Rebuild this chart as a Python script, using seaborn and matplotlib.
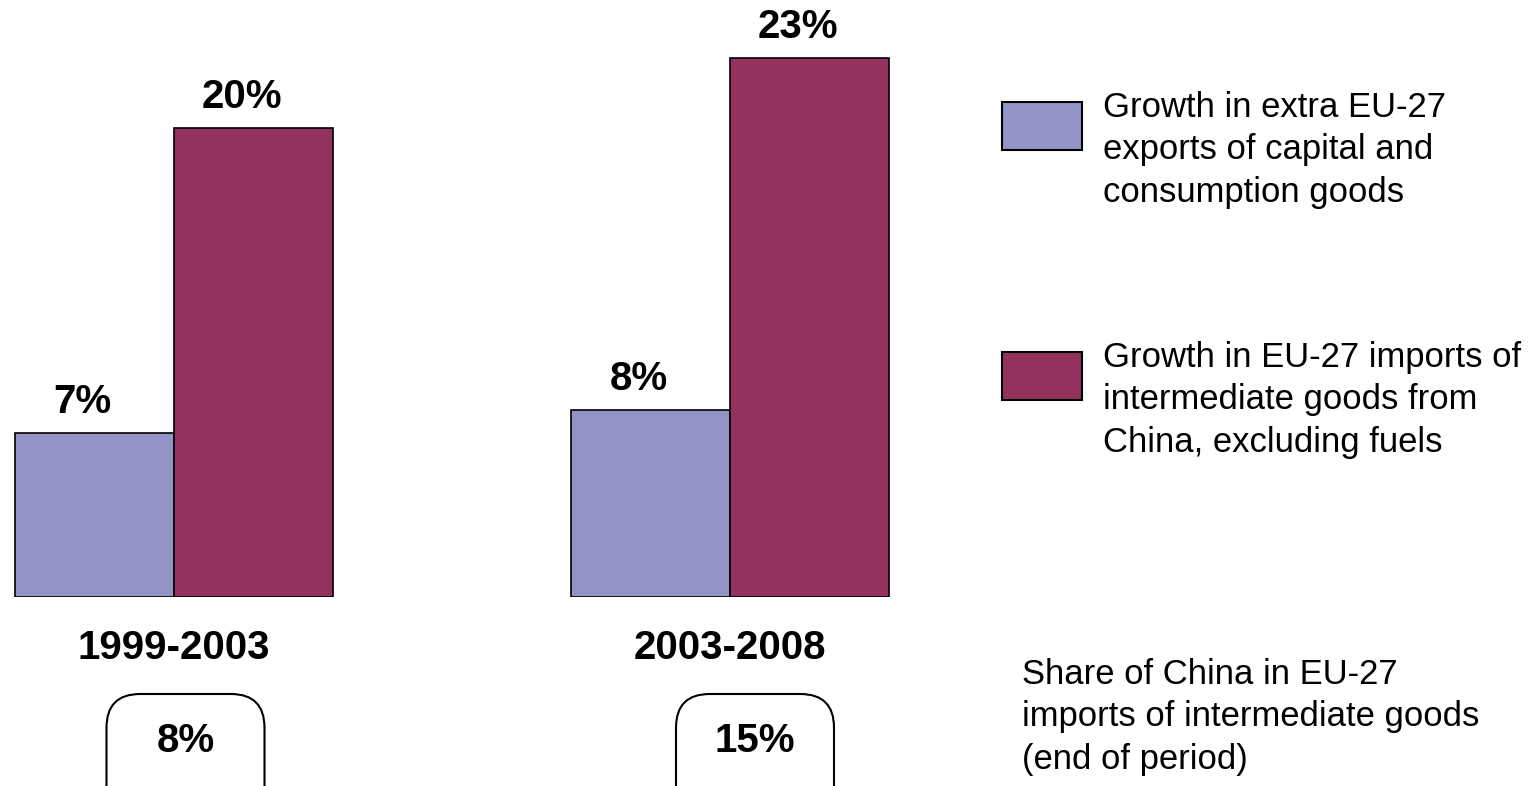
import matplotlib
matplotlib.use("Agg")
import matplotlib.pyplot as plt
from matplotlib.patches import FancyBboxPatch, Rectangle
import pandas as pd
import seaborn as sns

periods = ["1999-2003", "2003-2008"]
series = [
    "Growth in extra EU-27\nexports of capital and\nconsumption goods",
    "Growth in EU-27 imports of\nintermediate goods from\nChina, excluding fuels",
]
exports_growth = [7, 8]
imports_growth = [20, 23]
china_share = [8, 15]
share_note = "Share of China in EU-27\nimports of intermediate goods\n(end of period)"
colors = ["#9393C5", "#93325F"]

df = pd.DataFrame({
    "period": periods * 2,
    "series": [series[0]] * 2 + [series[1]] * 2,
    "value": exports_growth + imports_growth,
})

sns.set_theme(style="white")
plt.rcParams["font.family"] = ["Liberation Sans", "DejaVu Sans"]
plt.rcParams["text.color"] = "black"
plt.rcParams["xtick.color"] = "black"
plt.rcParams["xtick.labelcolor"] = "black"

W, H = 1532, 786
fig = plt.figure(figsize=(W / 100, H / 100), dpi=100)
ax = fig.add_axes([0, (H - 597) / H, 900 / W, 597 / H])

sns.barplot(data=df, x="period", y="value", hue="series", palette=colors,
            width=0.572, edgecolor="black", linewidth=1.2, saturation=1,
            ax=ax, legend=False)

ax.set_xlim(-0.313, -0.313 + 900 / 556)
ax.set_ylim(0, 597 / 23.43)
for s in ax.spines.values():
    s.set_visible(False)
ax.set_yticks([])
ax.set_xlabel("")
ax.set_ylabel("")
ax.tick_params(axis="x", length=0, pad=23, colors="black")
for lbl in ax.get_xticklabels():
    lbl.set_fontsize(29)
    lbl.set_fontweight("bold")

# value labels above each bar
for cont in ax.containers:
    for rect in cont:
        v = rect.get_height()
        ax.annotate(f"{v:.0f}%", (rect.get_x() + rect.get_width() / 2, v),
                    xytext=(-12, 20), textcoords="offset pixels",
                    ha="center", va="baseline", fontsize=29,
                    fontweight="bold", color="black")

# legend on the right: swatch plus three-line description
for i, (lab, col) in enumerate(zip(series, colors)):
    top = 102 + 250 * i
    fig.patches.append(Rectangle((1002 / W, 1 - (top + 48) / H), 80 / W, 48 / H,
                                 transform=fig.transFigure, facecolor=col,
                                 edgecolor="black", linewidth=1.5))
    fig.text(1103 / W, 1 - (91 + 250 * i) / H, lab, ha="left",
             va="top", fontsize=24.9, linespacing=1.36, color="black")

# share of China boxes below each period
for px_center, share in zip([185.5, 755], china_share):
    box = FancyBboxPatch(((px_center - 79) / W, -0.05), 158 / W,
                         (H - 694) / H + 0.05,
                         boxstyle="round,pad=0,rounding_size=0.022",
                         transform=fig.transFigure, facecolor="white",
                         edgecolor="black", linewidth=1.5, clip_on=False,
                         mutation_aspect=W / H)
    fig.patches.append(box)
    fig.text(px_center / W, 1 - 741 / H, f"{share}%", ha="center",
             va="center", fontsize=29, fontweight="bold", color="black")

fig.text(1022 / W, 1 - 658 / H, share_note, ha="left", va="top",
         fontsize=24.9, linespacing=1.36, color="black")

fig.savefig("out.png", dpi=100)
